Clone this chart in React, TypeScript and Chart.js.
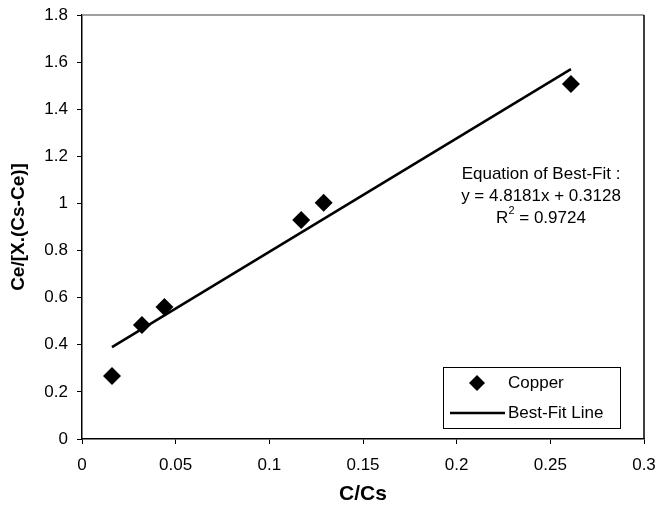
import React, { useEffect, useRef } from "react";
import { Chart, registerables } from "chart.js";

Chart.register(...registerables);

const copperX = [0.016, 0.032, 0.044, 0.117, 0.129, 0.261];
const copperY = [0.267, 0.484, 0.56, 0.93, 1.003, 1.507];
const fitSlope = 4.8181;
const fitIntercept = 0.3128;
const fitX = [0.016, 0.261];
const equationTitle = "Equation of Best-Fit :";
const equationText = "y = 4.8181x + 0.3128";
const rSquaredText = " = 0.9724";
const xTicks = [0, 0.05, 0.1, 0.15, 0.2, 0.25, 0.3];
const yTicks = [0, 0.2, 0.4, 0.6, 0.8, 1, 1.2, 1.4, 1.6, 1.8];

const FONT = "'Liberation Sans', Arial, sans-serif";
const TXT = 17;

const framePlugin = {
  id: "frameAndNotes",
  afterDatasetsDraw(chart: any) {
    const { ctx, chartArea } = chart;
    const { left, right, top, bottom } = chartArea;
    ctx.save();
    ctx.strokeStyle = "#808080";
    ctx.lineWidth = 1.5;
    ctx.beginPath();
    ctx.moveTo(left, top);
    ctx.lineTo(right, top);
    ctx.stroke();
    ctx.strokeStyle = "#000";
    ctx.lineWidth = 1.5;
    ctx.beginPath();
    ctx.moveTo(right, top);
    ctx.lineTo(right, bottom);
    ctx.stroke();

    // equation annotation
    ctx.fillStyle = "#000";
    ctx.font = `${TXT}px ${FONT}`;
    ctx.textAlign = "center";
    ctx.textBaseline = "middle";
    const cx = right - 103;
    const y0 = top + 159;
    const lh = 22;
    ctx.fillText(equationTitle, cx, y0);
    ctx.fillText(equationText, cx, y0 + lh);
    const wR = ctx.measureText("R").width;
    ctx.font = `11px ${FONT}`;
    const w2 = ctx.measureText("2").width;
    ctx.font = `${TXT}px ${FONT}`;
    const wRest = ctx.measureText(rSquaredText).width;
    const sx = cx - (wR + w2 + wRest) / 2;
    ctx.textAlign = "left";
    ctx.fillText("R", sx, y0 + 2 * lh);
    ctx.font = `11px ${FONT}`;
    ctx.fillText("2", sx + wR, y0 + 2 * lh - 7);
    ctx.font = `${TXT}px ${FONT}`;
    ctx.fillText(rSquaredText, sx + wR + w2, y0 + 2 * lh);

    // legend box
    const lx = right - 201;
    const ly = bottom - 72;
    const lw = 177;
    const lhgt = 61;
    ctx.fillStyle = "#fff";
    ctx.fillRect(lx, ly, lw, lhgt);
    ctx.strokeStyle = "#000";
    ctx.lineWidth = 1;
    ctx.strokeRect(lx + 0.5, ly + 0.5, lw, lhgt);
    const r1 = ly + 16;
    const r2 = ly + 46;
    ctx.fillStyle = "#000";
    const dx = lx + 34;
    const dr = 8;
    ctx.beginPath();
    ctx.moveTo(dx, r1 - dr);
    ctx.lineTo(dx + dr, r1);
    ctx.lineTo(dx, r1 + dr);
    ctx.lineTo(dx - dr, r1);
    ctx.closePath();
    ctx.fill();
    ctx.font = `${TXT}px ${FONT}`;
    ctx.textAlign = "left";
    ctx.textBaseline = "middle";
    ctx.fillText(chart.data.datasets[0].label, lx + 65, r1);
    ctx.strokeStyle = "#000";
    ctx.lineWidth = 2.5;
    ctx.beginPath();
    ctx.moveTo(lx + 7, r2);
    ctx.lineTo(lx + 62, r2);
    ctx.stroke();
    ctx.fillText(chart.data.datasets[1].label, lx + 65, r2);
    ctx.restore();
  },
};

export default function App() {
  const ref = useRef<HTMLCanvasElement | null>(null);
  useEffect(() => {
    document.body.style.margin = "0";
    const canvas = ref.current;
    if (!canvas) return;
    const chart = new Chart(canvas, {
      type: "scatter",
      data: {
        datasets: [
          {
            label: "Copper",
            data: copperX.map((x, i) => ({ x, y: copperY[i] })),
            pointStyle: "rectRot",
            pointRadius: 9,
            backgroundColor: "#000",
            borderColor: "#000",
            borderWidth: 0,
            showLine: false,
            order: 0,
          },
          {
            label: "Best-Fit Line",
            data: fitX.map((x) => ({ x, y: fitSlope * x + fitIntercept })),
            showLine: true,
            borderColor: "#000",
            borderWidth: 2.5,
            pointRadius: 0,
            order: 1,
          },
        ],
      },
      options: {
        animation: false,
        responsive: false,
        devicePixelRatio: 1,
        layout: { padding: { left: 0, right: 15, top: 15, bottom: 0 } },
        plugins: { legend: { display: false }, tooltip: { enabled: false } },
        scales: {
          x: {
            type: "linear",
            min: 0,
            max: 0.3,
            afterBuildTicks: (s: any) => {
              s.ticks = xTicks.map((v) => ({ value: v }));
            },
            afterFit: (s: any) => {
              s.height = 71;
              s.paddingLeft = 0;
              s.paddingRight = 0;
            },
            grid: {
              display: true,
              drawOnChartArea: false,
              drawTicks: true,
              tickLength: 5,
              color: "#000",
            },
            border: { color: "#000", width: 1.5 },
            ticks: {
              color: "#000",
              font: { family: FONT, size: TXT },
              padding: 11,
              maxRotation: 0,
              callback: (v: any) => String(v),
            },
            title: {
              display: true,
              text: "C/Cs",
              color: "#000",
              font: { family: FONT, size: 21, weight: "bold" },
              padding: { top: 0, bottom: 3 },
            },
          },
          y: {
            type: "linear",
            min: 0,
            max: 1.8,
            afterBuildTicks: (s: any) => {
              s.ticks = yTicks.map((v) => ({ value: v }));
            },
            afterFit: (s: any) => {
              s.width = 82;
              s.paddingTop = 0;
              s.paddingBottom = 0;
            },
            grid: {
              display: true,
              drawOnChartArea: false,
              drawTicks: true,
              tickLength: 5,
              color: "#000",
            },
            border: { color: "#000", width: 1.5 },
            ticks: {
              color: "#000",
              font: { family: FONT, size: TXT },
              padding: 9,
              callback: (v: any) => String(v),
            },
            title: {
              display: true,
              text: "Ce/[X.(Cs-Ce)]",
              color: "#000",
              font: { family: FONT, size: 19, weight: "bold" },
              padding: { top: 7, bottom: 0 },
            },
          },
        },
      },
      plugins: [framePlugin],
    });
    return () => chart.destroy();
  }, []);
  return (
    <div style={{ width: 659, height: 510 }}>
      <canvas ref={ref} width={659} height={510} style={{ display: "block" }} />
    </div>
  );
}
